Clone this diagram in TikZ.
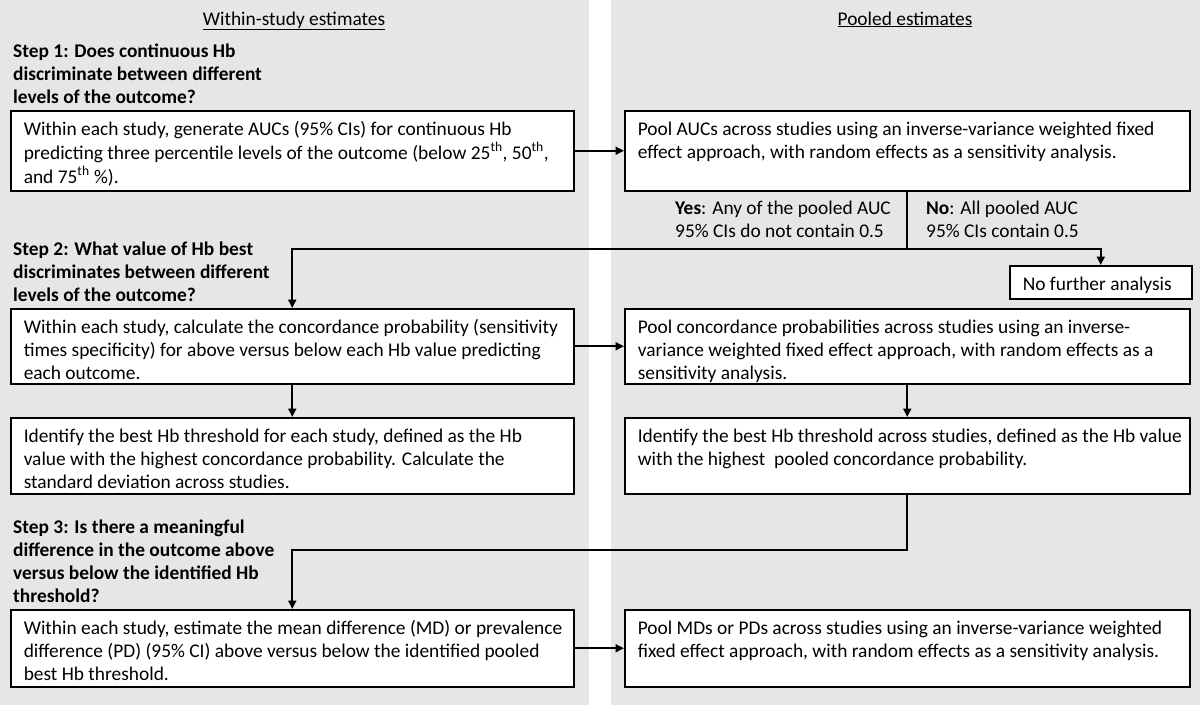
\documentclass[tikz,border=0pt]{standalone}
\usepackage{fontspec}
\setmainfont{Carlito}
\usetikzlibrary{arrows.meta}
\definecolor{panel}{RGB}{230,230,230}
\newcommand{\fsz}{\fontsize{19.4}{23.3}\selectfont}
\newcommand{\tl}[1]{\begin{tabular}[t]{@{}l@{}}#1\end{tabular}}
\newcommand{\bt}[3]{\parbox[c][#1][t]{#2}{\begin{tabular}[t]{@{}l@{}}\rule{0pt}{24.5pt}#3\end{tabular}}}
\tikzset{
  panelbg/.style={fill=panel},
  box/.style={draw=black, fill=white, line width=1.5pt, anchor=north west, inner xsep=13pt, inner ysep=0pt, font=\fsz},
  lbl/.style={anchor=base west, inner sep=0pt, font=\fsz},
  steplbl/.style={lbl, font=\fsz\bfseries},
  hdr/.style={anchor=base, inner sep=0pt, font=\fsz},
  conn/.style={line width=1.8pt},
  arr/.style={conn, -{Triangle[length=8.5pt,width=8pt]}},
}
\begin{document}
\begin{tikzpicture}[x=1pt,y=-1pt]
\useasboundingbox (0,0) rectangle (1200,705);
\fill[panelbg] (0,0) rectangle (589,705);
\fill[panelbg] (611,0) rectangle (1200,705);

\node[hdr] (h1) at (294,25) {\underline{Within-study estimates}};
\node[hdr] (h2) at (905,25) {\underline{Pooled estimates}};

\node[steplbl] (s1) at (13,57) {\tl{Step 1: Does continuous Hb\\discriminate between different\\levels of the outcome?}};
\node[steplbl] (s2) at (13,255) {\tl{Step 2: What value of Hb best\\discriminates between different\\levels of the outcome?}};
\node[steplbl] (s3) at (13,533) {\tl{Step 3: Is there a meaningful\\difference in the outcome above\\versus below the identified Hb\\threshold?}};

\node[box] (L1) at (10,110) {\bt{80pt}{537pt}{Within each study, generate AUCs (95\% CIs) for continuous Hb\\predicting three percentile levels of the outcome (below 25\textsuperscript{th}, 50\textsuperscript{th},\\and 75\textsuperscript{th} \%).}};
\node[box] (R1) at (624,110) {\bt{80pt}{539pt}{Pool AUCs across studies using an inverse-variance weighted fixed\\effect approach, with random effects as a sensitivity analysis.}};

\node[lbl] (yes) at (675,214) {\tl{\textbf{Yes}: Any of the pooled AUC\\95\% CIs do not contain 0.5}};
\node[lbl] (no) at (926,214) {\tl{\textbf{No}: All pooled AUC\\95\% CIs contain 0.5}};

\node[box] (NF) at (1009,265) {\bt{33pt}{156pt}{No further analysis}};

\node[box] (L2) at (10,308) {\bt{75pt}{537pt}{Within each study, calculate the concordance probability (sensitivity\\times specificity) for above versus below each Hb value predicting\\each outcome.}};
\node[box] (R2) at (624,308) {\bt{75pt}{539pt}{Pool concordance probabilities across studies using an inverse-\\variance weighted fixed effect approach, with random effects as a\\sensitivity analysis.}};

\node[box] (L3) at (10,417) {\bt{76pt}{537pt}{Identify the best Hb threshold for each study, defined as the Hb\\value with the highest concordance probability. Calculate the\\standard deviation across studies.}};
\node[box] (R3) at (624,417) {\bt{76pt}{539pt}{Identify the best Hb threshold across studies, defined as the Hb value\\with the highest\ \ pooled concordance probability.}};

\node[box] (L4) at (10,609) {\bt{77pt}{537pt}{Within each study, estimate the mean difference (MD) or prevalence\\difference (PD) (95\% CI) above versus below the identified pooled\\best Hb threshold.}};
\node[box] (R4) at (624,609) {\bt{77pt}{539pt}{Pool MDs or PDs across studies using an inverse-variance weighted\\fixed effect approach, with random effects as a sensitivity analysis.}};

\coordinate (y1) at (0,249);
\coordinate (y2) at (0,550);
\coordinate (j1) at (R1.south |- y1);
\coordinate (j2) at (R3.south |- y2);

\draw[arr] (L1.east) -- (R1.west);
\draw[conn] (R1.south) -- (j1);
\draw[arr] (j1) -| (L2.north);
\draw[arr] (j1) -| (NF.north);
\draw[arr] (L2.east) -- (R2.west);
\draw[arr] (L2.south) -- (L3.north);
\draw[arr] (R2.south) -- (R3.north);
\draw[arr] (j2) -| (L4.north);
\draw[conn, line cap=rect] (R3.south) -- (j2);
\draw[arr] (L4.east) -- (R4.west);
\end{tikzpicture}
\end{document}
